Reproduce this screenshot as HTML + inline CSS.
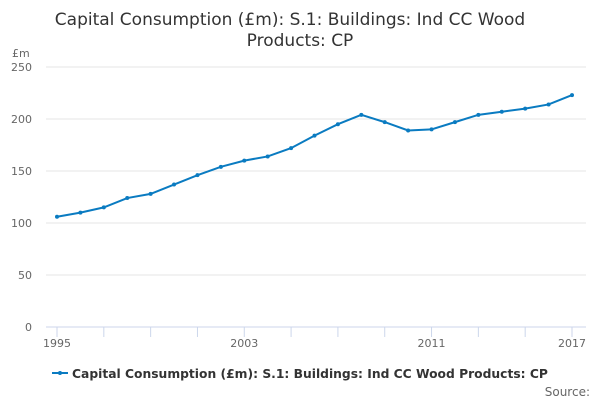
<!DOCTYPE html>
<html><head><meta charset="utf-8"><style>
body{margin:0;background:#fff;font-family:"DejaVu Sans","Liberation Sans",sans-serif}
</style></head><body>
<svg width="600" height="400" xmlns="http://www.w3.org/2000/svg">
<text x="290" y="25" text-anchor="middle" font-size="17" fill="#333">Capital Consumption (£m): S.1: Buildings: Ind CC Wood</text>
<text x="300" y="46" text-anchor="middle" font-size="17" fill="#333">Products: CP</text>
<text x="12" y="57" font-size="11" fill="#666">£m</text>
<g id="grid"></g><g id="xaxis"></g><g id="series"></g>
<g>
<line x1="52" y1="373" x2="68" y2="373" stroke="#0a7bc1" stroke-width="2"/>
<circle cx="60" cy="373" r="2" fill="#0a7bc1"/>
<text x="72" y="378" font-size="12.3" font-weight="bold" fill="#333">Capital Consumption (£m): S.1: Buildings: Ind CC Wood Products: CP</text>
</g>
<text x="590" y="396" text-anchor="end" font-size="12" fill="#666">Source:</text>
</svg>
<script>
const years=[1995,1996,1997,1998,1999,2000,2001,2002,2003,2004,2005,2006,2007,2008,2009,2010,2011,2012,2013,2014,2015,2016,2017];
const values=[106,110,115,124,128,137,146,154,160,164,172,184,195,204,197,189,190,197,204,207,210,214,223];
const yTicks=[0,50,100,150,200,250];
const xLabels=[1995,2003,2011,2017];
const NS="http://www.w3.org/2000/svg";
const x=v=>57+(v-1995)*(515/22);
const y=v=>327-v*1.04;
function mk(t,a,p){const e=document.createElementNS(NS,t);for(const k in a)e.setAttribute(k,a[k]);p.appendChild(e);return e;}
const g=document.getElementById('grid');
yTicks.forEach(t=>{
 const l=mk('line',{x1:46,x2:586,y1:y(t),y2:y(t),stroke:t===0?'#ccd6eb':'#e6e6e6','stroke-width':1},g);
 
 
 const tx=mk('text',{x:32,y:y(t)+4,'text-anchor':'end','font-size':11,fill:'#666'},g);
 tx.textContent=t;
 
 
});
const xa=document.getElementById('xaxis');
for(let yr=1995;yr<=2017;yr+=2){
 const l=mk('line',{x1:x(yr),x2:x(yr),y1:327,y2:337,stroke:'#ccd6eb'},xa);
 
 
}
xLabels.forEach(yr=>{
 const tx=mk('text',{x:x(yr),y:347,'text-anchor':'middle','font-size':11,fill:'#666'},xa);
 tx.textContent=yr;
 
 
});
const s=document.getElementById('series');
const pl=mk('polyline',{points:years.map((yr,i)=>x(yr)+','+y(values[i])).join(' '),fill:'none',stroke:'#0a7bc1','stroke-width':2},s);


years.forEach((yr,i)=>{
 const c=mk('circle',{cx:x(yr),cy:y(values[i]),r:2,fill:'#0a7bc1'},s);
 
 
});
</script>
</body></html>
